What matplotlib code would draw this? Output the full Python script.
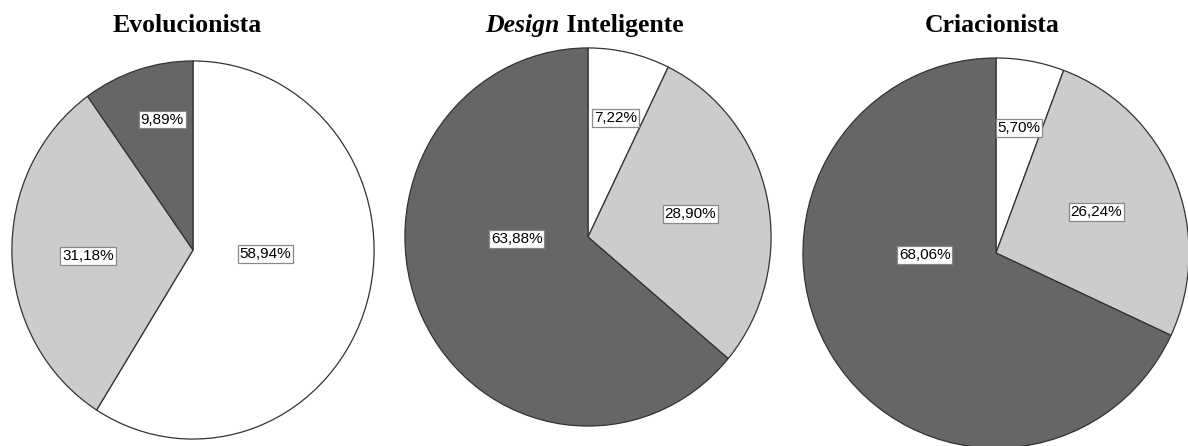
import matplotlib
matplotlib.use("Agg")
from matplotlib import pyplot as plt
import numpy as np

# data
titles = ["Evolucionista", "Design Inteligente", "Criacionista"]
evolucionista = [58.94, 31.18, 9.89]
design = [7.22, 28.90, 63.88]
criacionista = [5.70, 26.24, 68.06]
colors = ["#ffffff", "#cccccc", "#666666"]

W, H = 1188, 446
fig = plt.figure(figsize=(W / 100, H / 100), dpi=100)

# pie boxes in pixels (x0, x1, top, bottom)
boxes = [(11, 375, 60, 440),
         (404, 772, 47, 427),
         (802, 1190, 57, 449)]

# label positions inside each pie, in pie radius units
label_pos = [[(0.40, -0.02), (-0.58, -0.03), (-0.17, 0.69)],
             [(0.15, 0.63), (0.56, 0.12), (-0.39, -0.01)],
             [(0.12, 0.64), (0.52, 0.21), (-0.37, -0.01)]]

def fmt(p):
    return ("%.2f%%" % p).replace(".", ",")

for vals, box, lp in zip([evolucionista, design, criacionista], boxes, label_pos):
    x0, x1, top, bot = box
    ax = fig.add_axes([x0 / W, (H - bot) / H, (x1 - x0) / W, (bot - top) / H])
    wedges, texts, autotexts = ax.pie(vals, colors=colors, startangle=90, counterclock=False,
                                      radius=1, autopct=fmt, normalize=True,
                                      wedgeprops=dict(edgecolor="#333333", linewidth=0.9))
    for t, p, v in zip(autotexts, lp, vals):
        t.set_text(fmt(v))
        t.set_position(p)
        t.set_fontfamily("Liberation Sans")
        t.set_fontsize(11)
        t.set_color("black")
        t.set_bbox(dict(boxstyle="square,pad=0.12", facecolor="white", edgecolor="#888888", linewidth=0.9))
    ax.set_aspect("auto")
    ax.set_xlim(-1.005, 1.005)
    ax.set_ylim(-1.005, 1.005)
    ax.axis("off")
    for w in wedges:
        w.set_clip_on(False)

ty = 1 - 32 / H
tfont = dict(va="baseline", fontsize=18.5, fontweight="bold", family="Liberation Serif")
fig.text(187.5 / W, ty, titles[0], ha="center", **tfont)
fig.text(992 / W, ty, titles[2], ha="center", **tfont)

# "Design" in italics, then " Inteligente", centred together
first, rest = titles[1].split(" ", 1)
t1 = fig.text(0, ty, first, ha="left", style="italic", **tfont)
t2 = fig.text(0, ty, " " + rest, ha="left", **tfont)
r = fig.canvas.get_renderer()
w1 = t1.get_window_extent(r).width
w2 = t2.get_window_extent(r).width
start = 584.5 - (w1 + w2) / 2
t1.set_x(start / W)
t2.set_x((start + w1) / W)

fig.savefig("out.png", dpi=100, facecolor="white")
